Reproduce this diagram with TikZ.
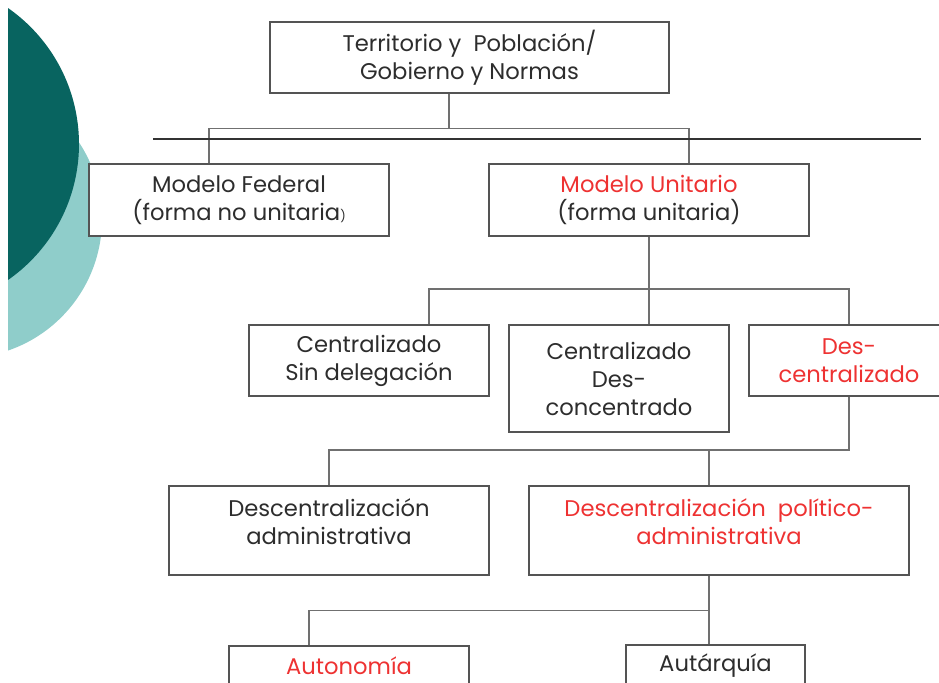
\documentclass[tikz,border=0pt]{standalone}
\usepackage{fontspec}
\setmainfont{Poppins}

\definecolor{tealdark}{RGB}{8,100,96}
\definecolor{teallight}{RGB}{143,205,202}
\definecolor{txtred}{RGB}{238,50,50}
\definecolor{txtgray}{RGB}{45,45,45}
\definecolor{linegray}{RGB}{112,112,112}

\tikzset{
  box/.style={draw=linegray!75!black, fill=white, line width=0.9pt, align=center,
    text=txtgray, inner sep=0pt, font=\fontsize{17}{21}\selectfont},
  lbl/.style={align=center, text=txtgray, inner sep=0pt, font=\fontsize{17}{21}\selectfont},
  hot/.style={text=txtred},
  conn/.style={draw=linegray, line width=0.8pt},
  rule/.style={draw=black!80, line width=0.9pt}
}

\begin{document}
\begin{tikzpicture}[x=0.75pt,y=-0.75pt]
    \useasboundingbox (0,0) rectangle (939,682);
    \clip (0,0) rectangle (939,682);

    % left decoration
    \begin{scope}
    \clip (8,0) rectangle (300,682);
    \fill[teallight] (-37,219) circle[radius=104.25pt];
    \fill[tealdark] (-86.75,144) circle[radius=124.3pt];
    \end{scope}

    % boxes
    \node[box, minimum width=299.25pt, minimum height=53.25pt] (top) at (469.5,57.5)
        {Territorio y\ \ Población/\\Gobierno y Normas};
    \node[box, minimum width=225pt, minimum height=54pt] (fed) at (239,200)
        {Modelo Federal\\(forma no unitaria{\fontsize{9}{9}\selectfont)}};
    \node[box, minimum width=240pt, minimum height=54pt] (uni) at (649,200)
        {\textcolor{txtred}{Modelo Unitario}\\(forma unitaria)};
    \node[box, minimum width=180pt, minimum height=53.25pt] (sin) at (369,360.5)
        {Centralizado\\Sin delegación};
    \node[box, minimum width=165pt, minimum height=80.25pt] (conc) at (619,378.5)
        {Centralizado\\Des-\\concentrado};
    \node[box, hot, minimum width=150pt, minimum height=53.25pt] (desc) at (849,360.5)
        {Des-\\centralizado};
    \node[box, minimum width=240pt, minimum height=66.75pt,
        label={[lbl, yshift=7pt]center:Descentralización\\administrativa}] (adm) at (329,530.5) {};
    \node[box, minimum width=285pt, minimum height=66.75pt,
        label={[lbl, hot, yshift=7pt]center:Descentralización\ \ político-\\administrativa}] (pol) at (719,530.5) {};
    \node[box, hot, minimum width=180pt, minimum height=30pt] (auto) at (349,666) {Autonomía};
    \node[box, minimum width=134.25pt, minimum height=31.5pt] (auta) at (715.5,666) {Autárquía};

    % junctions
    \coordinate (j1) at (449,128.5);
    \coordinate (b1L) at (209,128.5);
    \coordinate (b1R) at (689,128.5);
    \coordinate (j2) at (649,289);
    \coordinate (b2L) at (429,289);
    \coordinate (b2R) at (849,289);
    \coordinate (j3) at (849,450);
    \coordinate (b3L) at (329,450);
    \coordinate (b3R) at (709,450);
    \coordinate (j4) at (709,610.5);
    \coordinate (b4L) at (309,610.5);
    \coordinate (ruleL) at (153,139);
    \coordinate (ruleR) at (921,139);

    % connectors
    \draw[conn] (top.south -| j1) -- (j1);
    \draw[conn] (fed.north -| b1L) |- (b1R) -- (b1R |- uni.north);
    \draw[rule] (ruleL) -- (ruleR);
    \draw[conn] (uni.south -| j2) -- (j2 |- conc.north);
    \draw[conn] (sin.north -| b2L) |- (b2R) -- (b2R |- desc.north);
    \draw[conn] (desc.south -| j3) -- (j3) -- (b3L) -- (b3L |- adm.north);
    \draw[conn] (b3R) -- (b3R |- pol.north);
    \draw[conn] (pol.south -| j4) -- (j4 |- auta.north);
    \draw[conn] (j4) -- (b4L) -- (b4L |- auto.north);
\end{tikzpicture}
\end{document}
